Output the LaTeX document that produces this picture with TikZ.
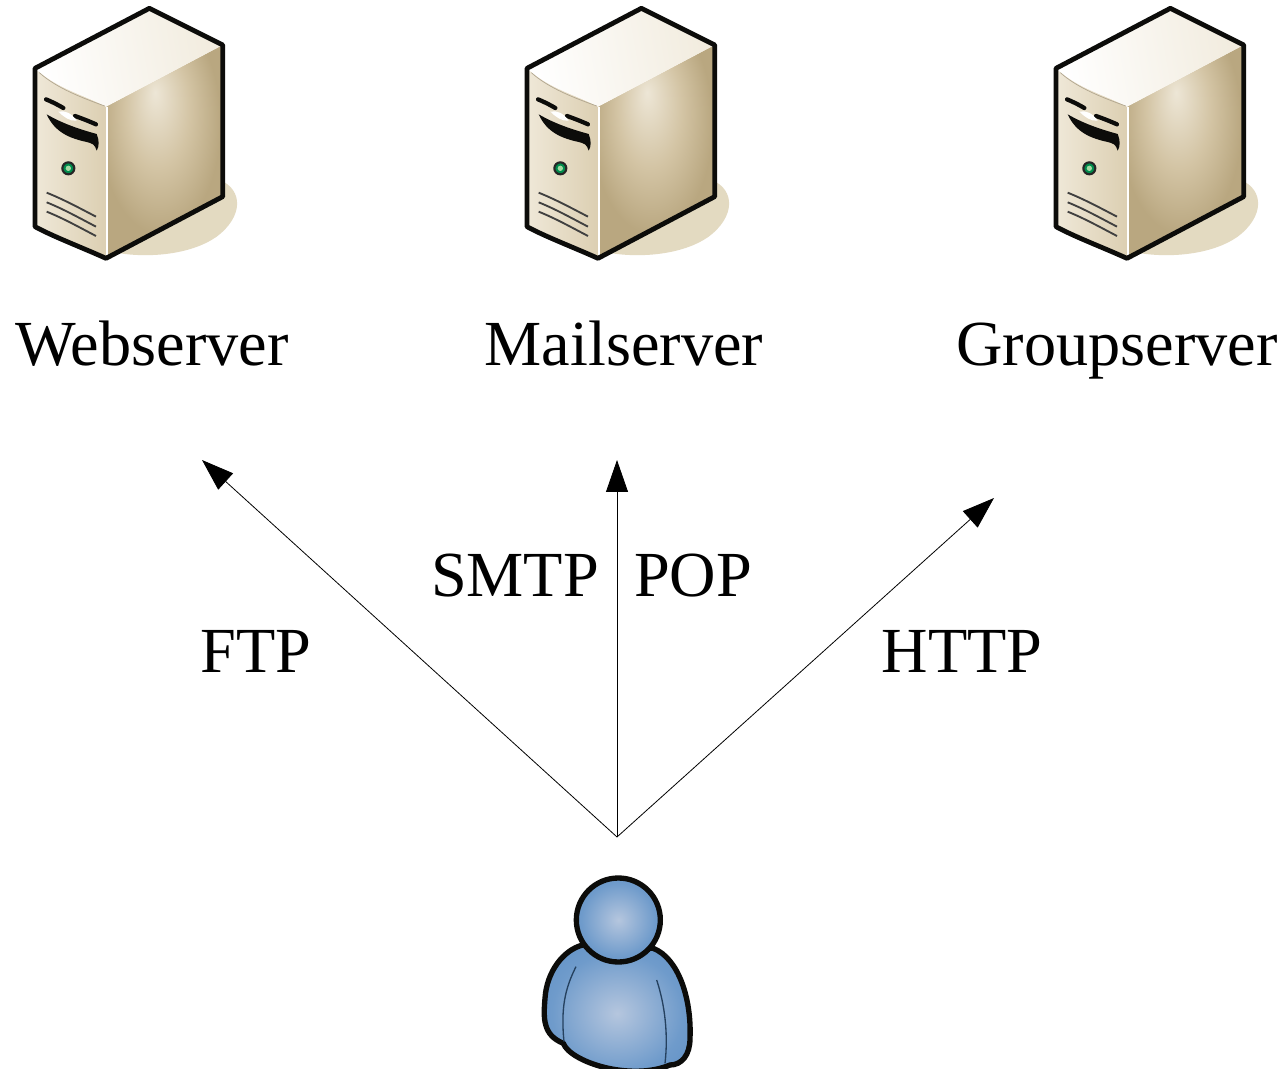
\documentclass[tikz,border=0pt]{standalone}
\usepackage{fontspec}
\setmainfont{Liberation Serif}
\usetikzlibrary{arrows.meta}
\definecolor{sideA}{HTML}{EDE6D6}
\definecolor{sideB}{HTML}{D3C4A4}
\definecolor{sideC}{HTML}{B9A780}
\definecolor{blueA}{HTML}{B5C6DE}
\definecolor{blueB}{HTML}{6F9BCB}
\definecolor{blueC}{HTML}{4A82BE}
\definecolor{frontA}{HTML}{EFE8D8}
\definecolor{frontB}{HTML}{DCCFB2}
\definecolor{shadowc}{HTML}{E3DAC1}
\definecolor{outl}{HTML}{0C0C0A}
\pgfdeclareradialshading{sideshade}{\pgfpoint{-4pt}{14pt}}{color(0pt)=(sideA);color(14pt)=(sideB);color(26pt)=(sideC);color(50pt)=(sideC)}
\pgfdeclareradialshading{bodyshade}{\pgfpoint{0pt}{0pt}}{color(0pt)=(blueA);color(22pt)=(blueB);color(50pt)=(blueC)}
\tikzset{
  lbl/.style={font=\fontsize{48.2pt}{50pt}\selectfont,anchor=base,inner sep=0pt},
  conn/.style={draw=black,line width=0.6pt,-{Triangle[length=24pt,width=16.5pt]}},
  pics/serverbox/.style={code={
    \begin{scope}[x=.25pt,y=-.25pt]
      \fill[shadowc] (600,540) .. controls (670,570) and (670,650) .. (590,710) .. controls (520,760) and (400,775) .. (300,760) -- cycle;
      \path[shade,shading=sideshade] (258,320) -- (608,135) -- (608,590) -- (258,775) -- cycle;
      \path[left color=frontA,right color=frontB] (45,205) -- (258,320) -- (258,775) .. controls (180,740) and (100,710) .. (45,680) -- cycle;
      \path[left color=white,right color=frontA!85!white,shading angle=100] (45,205) -- (388,25) -- (608,135) -- (258,320) .. controls (190,285) and (110,265) .. (45,205) -- cycle;
      \draw[white,line width=1.6pt] (260,320) -- (260,765);
      \draw[frontB!80!black,line width=.5pt] (58,218) .. controls (110,265) and (190,295) .. (254,318);
      \draw[outl,line width=3.2pt,line cap=round] (78,298) .. controls (95,305) and (115,315) .. (130,324);
      \draw[outl,line width=3.2pt,line cap=round] (165,348) .. controls (185,355) and (210,365) .. (228,373);
      \fill[outl] (80,343) .. controls (130,372) and (180,388) .. (230,402) .. controls (238,420) and (238,440) .. (230,452) .. controls (225,432) and (215,430) .. (200,426) .. controls (150,415) and (105,398) .. (80,343) -- cycle;
      \fill[white] (115,335) .. controls (135,330) and (155,340) .. (170,362) .. controls (150,365) and (130,350) .. (115,335) -- cycle;
      \draw[black!85,fill=green!35!black!70!cyan,line width=1.6pt] (145,505) circle (18);
      \fill[green!30!white!70!gray] (145,505) circle (8);
      \draw[black!75,line width=1.4pt] (80,578) .. controls (130,598) and (180,625) .. (228,650);
      \draw[black!75,line width=1.4pt] (80,607) .. controls (130,627) and (180,655) .. (228,680);
      \draw[black!75,line width=1.4pt] (80,635) .. controls (130,655) and (180,683) .. (228,708);
      \draw[outl,line width=3.6pt,line join=round] (45,205) -- (388,25) -- (608,135) -- (608,590) -- (258,775) .. controls (180,740) and (100,710) .. (45,680) -- cycle;
    \end{scope}}},
  pics/personicon/.style={code={
    \begin{scope}[x=.25pt,y=-.25pt]
      \path[shade,shading=bodyshade,draw=outl,line width=4pt,line join=round]
        (158,240) .. controls (100,255) and (50,320) .. (45,400) .. controls (40,460) and (38,510) .. (100,535)
        .. controls (120,590) and (300,650) .. (420,600) .. controls (455,600) and (480,570) .. (480,520)
        .. controls (485,400) and (445,280) .. (370,250) -- cycle;
      \draw[blueC!50!black,line width=1pt] (138,305) .. controls (105,370) and (92,430) .. (102,530);
      \draw[blueC!50!black,line width=1pt] (380,345) .. controls (405,420) and (415,510) .. (405,595);
      \path[shade,shading=bodyshade,draw=outl,line width=4pt] (265,165) circle (126);
    \end{scope}}}
}
\begin{document}
\begin{tikzpicture}[x=.75pt,y=-.75pt]
\useasboundingbox[fill=white] (0,0) rectangle (1285,1069);
\pic at (20,0) {serverbox};
\pic at (512,0) {serverbox};
\pic at (1041,0) {serverbox};
\pic at (530,865) {personicon};
\node[lbl] (web) at (152,366) {Webserver};
\node[lbl] (mail) at (624,366) {Mailserver};
\node[lbl] (group) at (1117,366) {Groupserver};
\node[lbl] (smtp) at (515,596) {SMTP};
\node[lbl] (pop) at (693,596) {POP};
\node[lbl] (ftp) at (256,672) {FTP};
\node[lbl] (http) at (962,672) {HTTP};
\coordinate (apex) at (617,837);
\coordinate (webend) at (202,460);
\coordinate (mailend) at (617,460);
\coordinate (groupend) at (994,498);
\draw[conn] (apex) -- (webend);
\draw[conn] (apex) -- (mailend);
\draw[conn] (apex) -- (groupend);
\end{tikzpicture}
\end{document}
